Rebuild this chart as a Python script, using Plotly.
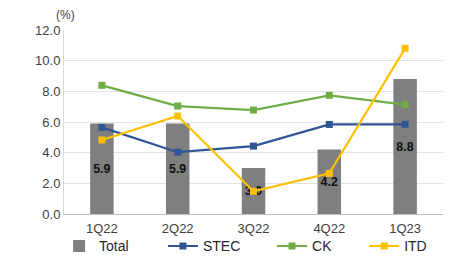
import plotly.graph_objects as go

quarters = ["1Q22", "2Q22", "3Q22", "4Q22", "1Q23"]
total = [5.9, 5.9, 3.0, 4.2, 8.8]
stec = [5.65, 4.03, 4.43, 5.84, 5.85]
ck = [8.39, 7.04, 6.78, 7.74, 7.13]
itd = [4.83, 6.39, 1.48, 2.65, 10.8]
y_ticks = [0, 2, 4, 6, 8, 10, 12]
y_tick_labels = ["0.0", "2.0", "4.0", "6.0", "8.0", "10.0", "12.0"]

font_family = "Liberation Sans, Arial, sans-serif"

fig = go.Figure()
fig.add_trace(go.Bar(
    x=quarters, y=total, name="Total", legend="legend",
    marker=dict(color="#7f7f7f", line=dict(width=0)),
    width=0.31,
    text=[f"{v:.1f}" for v in total],
    textposition="inside", insidetextanchor="middle",
    textfont=dict(color="#111111", size=14, family=font_family, weight="bold"),
    textangle=0,
))
line_specs = [("STEC", stec, "#2f5597", "legend2"),
              ("CK", ck, "#70ad47", "legend3"),
              ("ITD", itd, "#ffc000", "legend4")]
for name, vals, col, lg in line_specs:
    fig.add_trace(go.Scatter(
        x=quarters, y=vals, name=name, mode="lines+markers", legend=lg,
        line=dict(color=col, width=2.2),
        marker=dict(symbol="square", size=7, color=col),
    ))

def leg(x):
    return dict(orientation="h", x=x, xanchor="left", y=-0.176, yanchor="middle",
                font=dict(size=14, color="#262626"), bgcolor="rgba(0,0,0,0)",
                itemwidth=30)

# page has an 8px body margin: figure sized to fit the 451x263 window exactly
fig.update_layout(
    width=435, height=247,
    margin=dict(l=56, r=0, t=22, b=41, autoexpand=False),
    paper_bgcolor="white", plot_bgcolor="white",
    font=dict(family=font_family, size=13, color="#404040"),
    showlegend=True,
    legend=leg(-0.013), legend2=leg(0.261), legend3=leg(0.549), legend4=leg(0.792),
    bargap=0.6,
)
fig.add_annotation(text="(%)", xref="paper", yref="paper", x=0.005, y=1.0, yshift=15,
                   xanchor="center", yanchor="middle", showarrow=False,
                   font=dict(size=12, color="#404040"))
fig.update_xaxes(showline=True, linecolor="#bfbfbf", linewidth=1, ticks="",
                 showgrid=False, tickfont=dict(size=13, color="#404040"),
                 ticklabelstandoff=2)
fig.update_yaxes(range=[0, 12], tickvals=y_ticks, ticktext=y_tick_labels,
                 showgrid=True, gridcolor="#e3e3e3", gridwidth=1,
                 showline=True, linecolor="#d9d9d9", linewidth=1,
                 zeroline=False, ticks="", tickfont=dict(size=13, color="#404040"))

fig.write_html("out.html")
